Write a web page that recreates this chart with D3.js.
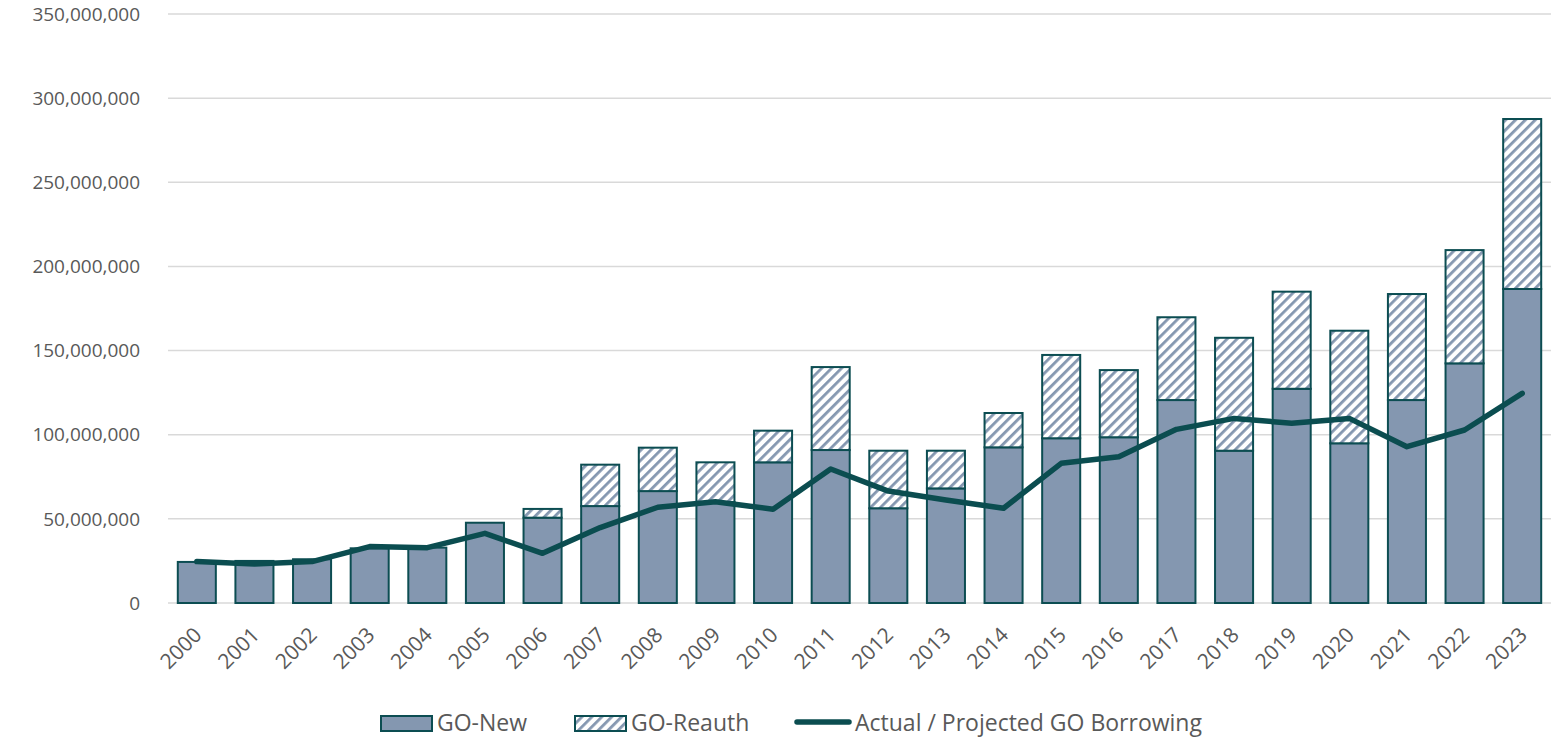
<!DOCTYPE html>
<html><head><meta charset="utf-8">
<script src="https://cdn.jsdelivr.net/npm/d3@7"></script>
<style>body{margin:0;background:#fff;} svg{display:block;}</style>
</head><body>
<svg id="c" width="1551" height="738"></svg>
<script>
const years = ["2000","2001","2002","2003","2004","2005","2006","2007","2008","2009","2010","2011","2012","2013","2014","2015","2016","2017","2018","2019","2020","2021","2022","2023"];
const goNew = [24.4,25.0,26.0,32.5,32.9,47.7,50.7,57.6,66.5,60.0,83.6,90.9,56.3,68.1,92.5,97.9,98.5,120.6,90.5,127.3,94.9,120.6,142.4,186.6].map(v=>v*1e6);
const goReauth = [0,0,0,0,0,0,5.2,24.6,25.8,23.6,18.8,49.3,34.2,22.4,20.4,49.5,39.9,49.2,67.1,57.7,66.9,63.0,67.3,101.0].map(v=>v*1e6);
const borrowing = [24.6,23.2,24.6,33.5,32.9,41.4,29.5,44.8,56.9,60.2,55.7,79.6,66.5,61.2,56.3,83.0,86.9,103.2,109.7,106.8,109.7,92.9,102.8,124.6].map(v=>v*1e6);
const yTicks = [0,50e6,100e6,150e6,200e6,250e6,300e6,350e6];
const seriesNames = ["GO-New","GO-Reauth","Actual / Projected GO Borrowing"];

const svg = d3.select("#c");
const fillC = "#8497b0", strokeC = "#0c4d52", lineC = "#0b4d50";
const font = "'Open Sans', 'Noto Sans', sans-serif";

const defs = svg.append("defs");
const pat = defs.append("pattern").attr("id","hatch").attr("patternUnits","userSpaceOnUse")
  .attr("width",7).attr("height",7).attr("patternTransform","rotate(45)");
pat.append("rect").attr("width",7).attr("height",7).attr("fill","#fff");
pat.append("rect").attr("x",0).attr("y",0).attr("width",2.8).attr("height",7).attr("fill",fillC);

const x = d3.scaleBand().domain(years).range([168,1551]).paddingInner(0.34).paddingOuter(0.17);
const y = d3.scaleLinear().domain([0,350e6]).range([603,14]);

// gridlines
svg.append("g").selectAll("line").data(yTicks).join("line")
  .attr("x1",168).attr("x2",1551).attr("y1",d=>y(d)).attr("y2",d=>y(d))
  .attr("stroke","#d9d9d9").attr("stroke-width",1.5);

// y labels
const fmt = d3.format(",");
svg.append("g").selectAll("text").data(yTicks).join("text")
  .attr("x",140).attr("y",d=>y(d)).attr("dy","0.35em").attr("text-anchor","end")
  .attr("font-family",font).attr("font-size",19).attr("fill","#595959")
  .text(d=>fmt(d));

// bars
const data = years.map((yr,i)=>({yr,n:goNew[i],r:goReauth[i]}));
const bw = x.bandwidth();
svg.append("g").selectAll("rect").data(data).join("rect")
  .attr("x",d=>x(d.yr)).attr("width",bw)
  .attr("y",d=>y(d.n)).attr("height",d=>y(0)-y(d.n))
  .attr("fill",fillC).attr("stroke",strokeC).attr("stroke-width",2);
svg.append("g").selectAll("rect").data(data.filter(d=>d.r>0)).join("rect")
  .attr("x",d=>x(d.yr)).attr("width",bw)
  .attr("y",d=>y(d.n+d.r)).attr("height",d=>y(d.n)-y(d.n+d.r))
  .attr("fill","url(#hatch)").attr("stroke",strokeC).attr("stroke-width",2);

// line
const line = d3.line().x((d,i)=>x(years[i])+bw/2).y(d=>y(d));
svg.append("path").datum(borrowing).attr("d",line)
  .attr("fill","none").attr("stroke",lineC).attr("stroke-width",5.5)
  .attr("stroke-linejoin","round").attr("stroke-linecap","round");

// x labels
svg.append("g").selectAll("text").data(years).join("text")
  .attr("transform",d=>`translate(${x(d)+bw/2+1},${631}) rotate(-45)`)
  .attr("text-anchor","end").attr("dy","0.35em")
  .attr("font-family",font).attr("font-size",21).attr("fill","#595959")
  .text(d=>d);

// legend
const lg = svg.append("g").attr("font-family",font).attr("font-size",23).attr("fill","#595959");
lg.append("rect").attr("x",381).attr("y",716).attr("width",51).attr("height",15)
  .attr("fill",fillC).attr("stroke",strokeC).attr("stroke-width",2);
lg.append("text").attr("x",437).attr("y",723).attr("dy","0.35em").text(seriesNames[0]);
lg.append("rect").attr("x",575).attr("y",716).attr("width",51).attr("height",15)
  .attr("fill","url(#hatch)").attr("stroke",strokeC).attr("stroke-width",2);
lg.append("text").attr("x",631).attr("y",723).attr("dy","0.35em").text(seriesNames[1]);
lg.append("line").attr("x1",797).attr("x2",849).attr("y1",722).attr("y2",722)
  .attr("stroke",lineC).attr("stroke-width",5.5).attr("stroke-linecap","round");
lg.append("text").attr("x",855).attr("y",723).attr("dy","0.35em").text(seriesNames[2]);
</script>
</body></html>
